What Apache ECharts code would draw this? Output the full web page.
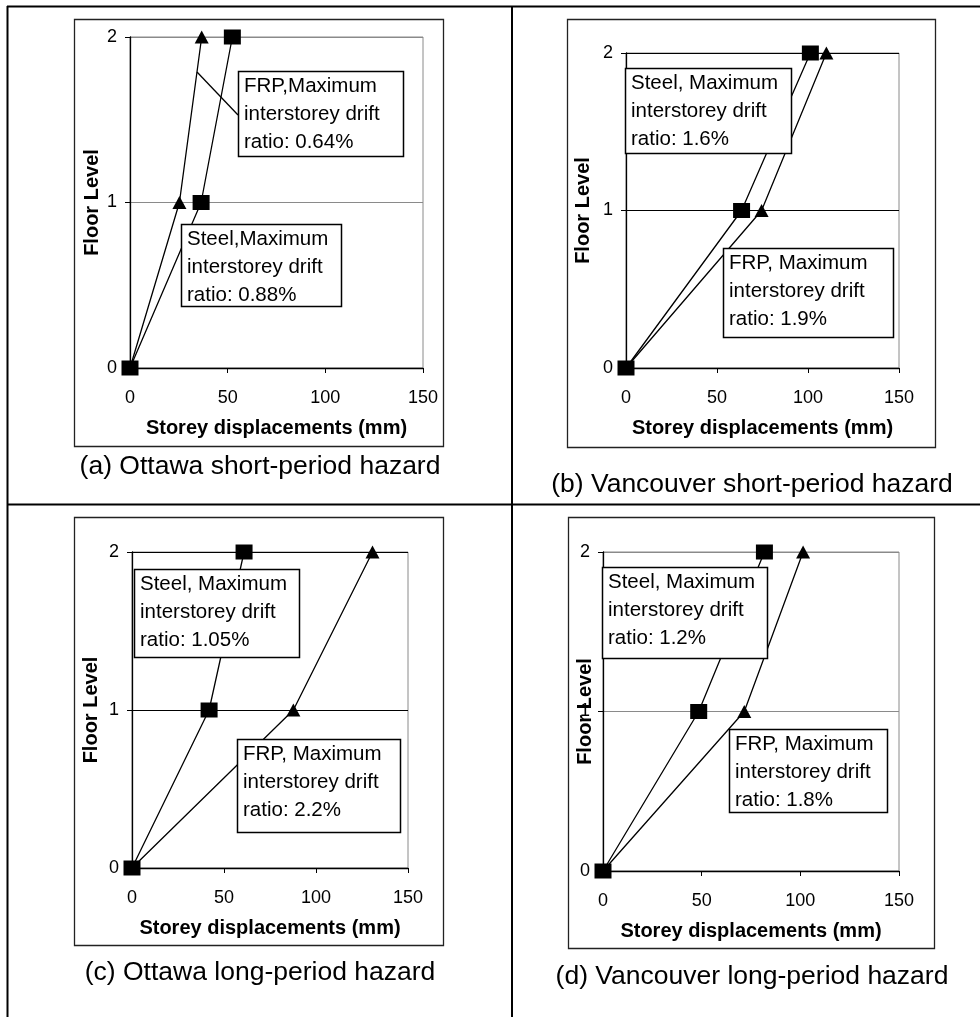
<!DOCTYPE html>
<html>
<head>
<meta charset="utf-8">
<script src="https://cdn.jsdelivr.net/npm/echarts@6/dist/echarts.min.js"></script>
<style>
html,body{margin:0;padding:0;background:#fff;}
#chart{width:980px;height:1017px;}
</style>
</head>
<body>
<div id="chart"></div>
<script>
// ---- data ----
const floors = [0, 1, 2];
const captions = [
  '(a) Ottawa short-period hazard',
  '(b) Vancouver short-period hazard',
  '(c) Ottawa long-period hazard',
  '(d) Vancouver long-period hazard'
];
const steelA = [0, 36.4, 52.4];
const frpA   = [0, 25.3, 36.7];
const steelB = [0, 63.5, 101.3];
const frpB   = [0, 74.5, 110.1];
const steelC = [0, 41.9, 60.9];
const frpC   = [0, 87.7, 130.7];
const steelD = [0, 48.5, 81.8];
const frpD   = [0, 71.6, 101.4];
const notesA = ['FRP,Maximum\ninterstorey drift\nratio: 0.64%', 'Steel,Maximum\ninterstorey drift\nratio: 0.88%'];
const notesB = ['Steel, Maximum\ninterstorey drift\nratio: 1.6%', 'FRP, Maximum\ninterstorey drift\nratio: 1.9%'];
const notesC = ['Steel, Maximum\ninterstorey drift\nratio: 1.05%', 'FRP, Maximum\ninterstorey drift\nratio: 2.2%'];
const notesD = ['Steel, Maximum\ninterstorey drift\nratio: 1.2%', 'FRP, Maximum\ninterstorey drift\nratio: 1.8%'];
const xAxisName = 'Storey displacements (mm)';
const yAxisName = 'Floor Level';

// ---- layout ----
const FONT = "'Liberation Sans', Arial, Helvetica, sans-serif";
const panels = [
  {grid:{left:130, top:37, width:293, height:331}, steel:steelA, frp:frpA, split:'#8a8a8a', nameGap:28,
   box:[74,19,369,427], cap:[260,467],
   notes:[{t:notesA[0], r:[238,71,165,85]}, {t:notesA[1], r:[181,224,160,82]}]},
  {grid:{left:626, top:53, width:273, height:315}, steel:steelB, frp:frpB, split:'#000', nameGap:33,
   box:[567,19,368,428], cap:[752,485],
   notes:[{t:notesB[0], r:[625,68,166,85]}, {t:notesB[1], r:[723,248,170,89]}]},
  {grid:{left:132, top:552, width:276, height:316}, steel:steelC, frp:frpC, split:'#000', nameGap:31,
   box:[74,517,369,428], cap:[260,973],
   notes:[{t:notesC[0], r:[134,569,165,88]}, {t:notesC[1], r:[237,739,163,93]}]},
  {grid:{left:603, top:552, width:296, height:319}, steel:steelD, frp:frpD, split:'#8a8a8a', nameGap:8, nameBg:'#fff',
   box:[568,517,366,431], cap:[752,977],
   notes:[{t:notesD[0], r:[602,567,165,91]}, {t:notesD[1], r:[729,729,158,83]}]}
];

const grids = [], xAxes = [], yAxes = [], series = [], graphics = [];

// table lines
const tableLines = [[7,6.5,980,6.5],[7.5,6,7.5,1017],[512,6,512,1017],[7,504.5,980,504.5]];
tableLines.forEach(l => graphics.push({type:'line', shape:{x1:l[0],y1:l[1],x2:l[2],y2:l[3]}, style:{stroke:'#000', lineWidth:2}, z:0}));

panels.forEach((p, i) => {
  graphics.push({type:'rect', shape:{x:p.box[0]+0.5, y:p.box[1]+0.5, width:p.box[2], height:p.box[3]},
    style:{fill:'none', stroke:'#222', lineWidth:1.3}, z:0});
  grids.push(Object.assign({show:true, borderColor:'#8a8a8a', borderWidth:1, backgroundColor:'transparent', containLabel:false}, p.grid));
  xAxes.push({
    type:'value', gridIndex:i, min:0, max:150, interval:50,
    name:xAxisName, nameLocation:'middle', nameGap:50, nameMoveOverlap:false,
    nameTextStyle:{fontFamily:FONT, fontWeight:'bold', fontSize:20, color:'#000'},
    axisLine:{show:true, onZero:false, lineStyle:{color:'#000', width:1.3}},
    axisTick:{show:true, length:5, lineStyle:{color:'#000'}},
    axisLabel:{fontFamily:FONT, fontSize:18, color:'#000', margin:21},
    splitLine:{show:false}
  });
  yAxes.push({
    type:'value', gridIndex:i, min:0, max:2, interval:1,
    name:yAxisName, nameLocation:'middle', nameGap:p.nameGap, nameRotate:90, nameMoveOverlap:false,
    nameTextStyle:Object.assign({fontFamily:FONT, fontWeight:'bold', fontSize:20, color:'#000'},
      p.nameBg ? {backgroundColor:p.nameBg} : {}),
    axisLine:{show:true, onZero:false, lineStyle:{color:'#000', width:1.3}},
    axisTick:{show:true, length:5, lineStyle:{color:'#000'}},
    axisLabel:{fontFamily:FONT, fontSize:18, color:'#000', margin:13},
    splitLine:{show:true, lineStyle:{color:p.split, width:1}}
  });
  series.push({
    type:'line', xAxisIndex:i, yAxisIndex:i, name:'Steel',
    data:floors.map((f, k) => [p.steel[k], f]),
    symbol:'rect', symbolSize:[17,15], showSymbol:true,
    itemStyle:{color:'#000'}, lineStyle:{color:'#000', width:1.3},
    animation:false, z:3
  });
  series.push({
    type:'line', xAxisIndex:i, yAxisIndex:i, name:'FRP',
    data:floors.map((f, k) => [p.frp[k], f]),
    symbol:'triangle', symbolSize:[14,13], showSymbol:true,
    itemStyle:{color:'#000'}, lineStyle:{color:'#000', width:1.3},
    animation:false, z:3
  });
  graphics.push({type:'text', x:p.cap[0], y:p.cap[1], z:10,
    style:{text:captions[i], fontFamily:FONT, fontSize:26.5, fill:'#000', textAlign:'center', textVerticalAlign:'middle'}});
  p.notes.forEach(n => {
    graphics.push({type:'rect', z:20, shape:{x:n.r[0]+0.5, y:n.r[1]+0.5, width:n.r[2], height:n.r[3]},
      style:{fill:'#fff', stroke:'#000', lineWidth:1.5}});
    graphics.push({type:'text', z:21, x:n.r[0]+6, y:n.r[1]+1,
      style:{text:n.t, fontFamily:FONT, fontSize:20.5, lineHeight:28, fill:'#000', textAlign:'left', textVerticalAlign:'top'}});
  });
});
// leader line in panel (a)
graphics.push({type:'line', z:19, shape:{x1:238, y1:115, x2:197, y2:72}, style:{stroke:'#000', lineWidth:1.3}});

const chart = echarts.init(document.getElementById('chart'), null, {renderer:'canvas'});
chart.setOption({
  animation:false,
  backgroundColor:'#fff',
  grid:grids, xAxis:xAxes, yAxis:yAxes, series:series,
  graphic:graphics
});
</script>
</body>
</html>
